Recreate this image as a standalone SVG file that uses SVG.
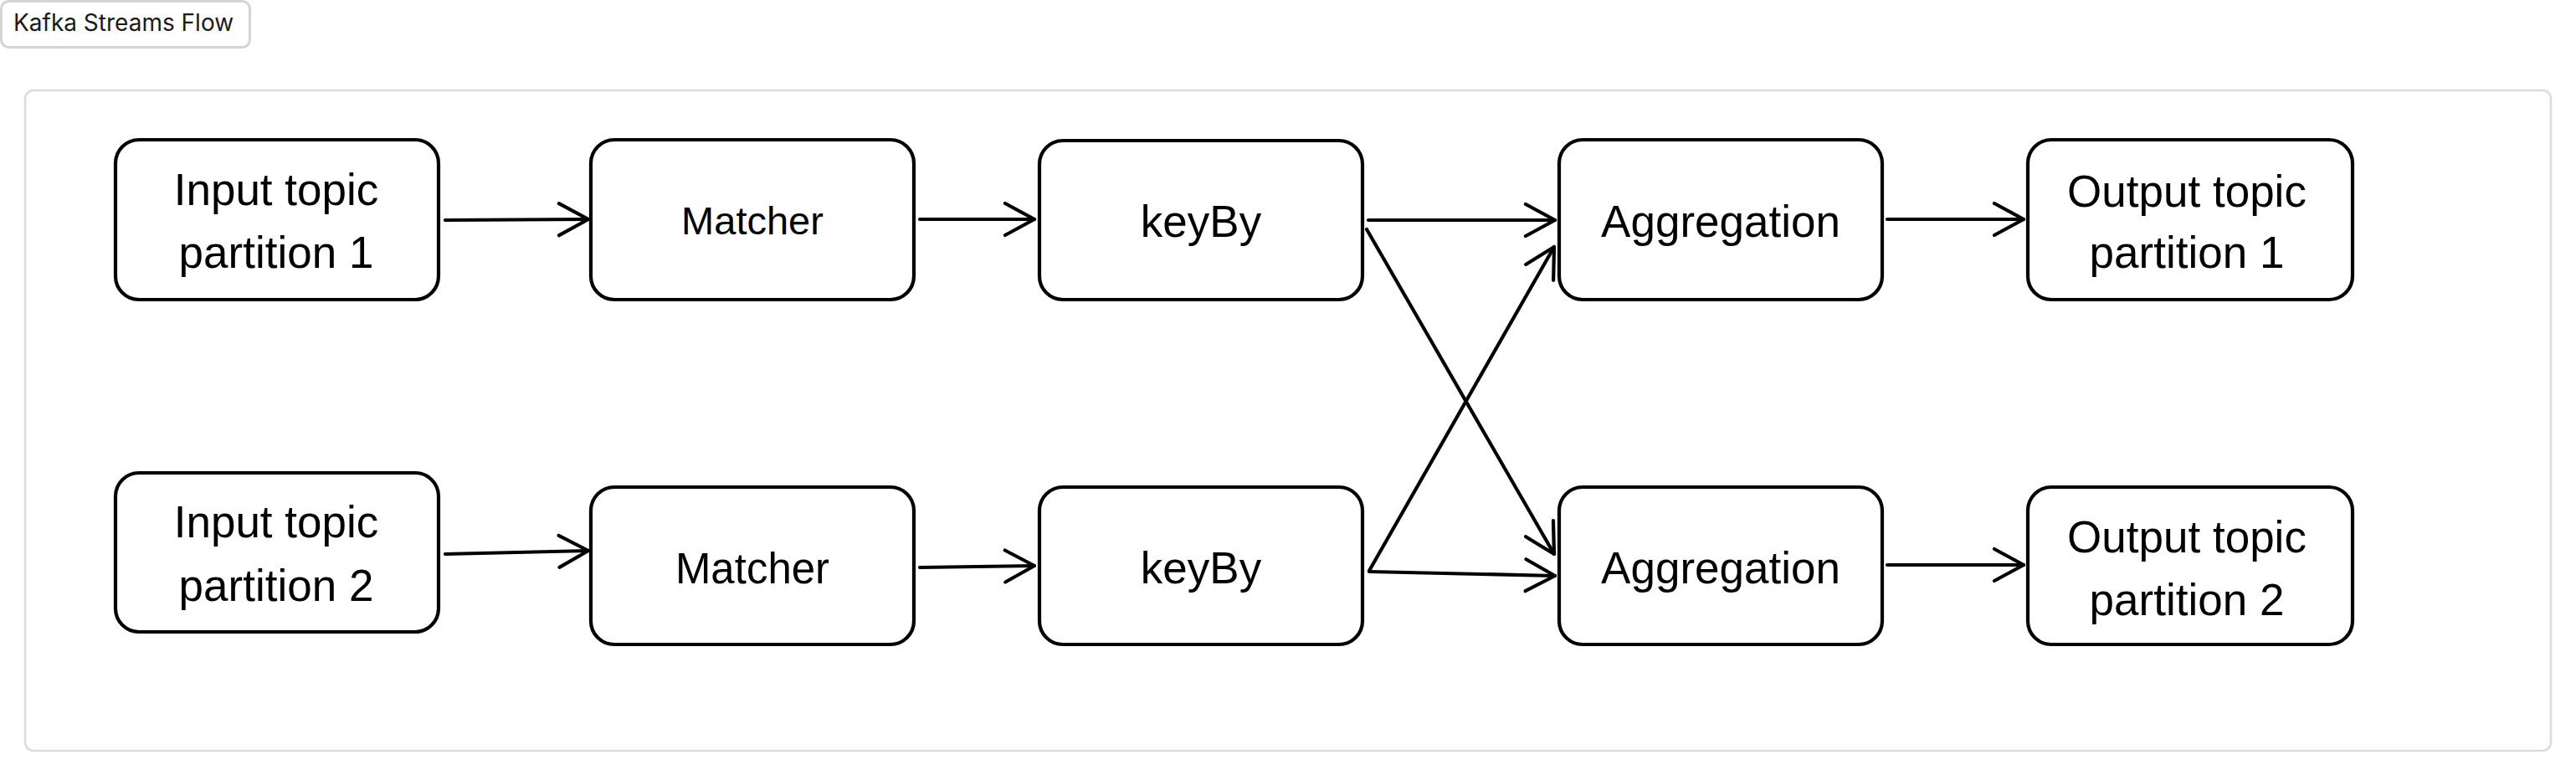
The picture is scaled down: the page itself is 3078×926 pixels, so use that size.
<svg xmlns="http://www.w3.org/2000/svg" width="3078" height="926" viewBox="0 0 3078 926">
<defs>
<style>
.node rect{fill:#ffffff;stroke:#000000;stroke-width:4.2}
.node text{font-family:"Liberation Sans",Arial,Helvetica,sans-serif;font-size:53px;fill:#000000;text-anchor:middle}
.conn{fill:none;stroke:#000000;stroke-width:4.2;stroke-linecap:round;marker-end:url(#chev)}
</style>
<marker id="chev" viewBox="-42 -24 46 48" refX="0" refY="0" markerWidth="46" markerHeight="48" markerUnits="userSpaceOnUse" orient="auto">
<path d="M-35,-19 L0,0 L-35,19" fill="none" stroke="#000000" stroke-width="4.2" stroke-linecap="round" stroke-linejoin="round"/>
</marker>
</defs>
<rect x="0" y="0" width="3078" height="926" fill="#ffffff"/>
<g id="title">
<rect x="1.5" y="1.5" width="297" height="55" rx="9" fill="#ffffff" stroke="#d4d4d4" stroke-width="3"/>
<text x="16" y="37" font-family="Inter,'Liberation Sans',sans-serif" font-size="28" fill="#1a1a1a">Kafka Streams Flow</text>
</g>
<g id="panel">
<rect x="30" y="108" width="3018" height="789" rx="10" fill="#ffffff" stroke="#dcdce0" stroke-width="2.5"/>
</g>
<g id="input1" class="node">
<rect x="138" y="167" width="386" height="191" rx="28"/>
<text x="330" y="245">Input topic</text>
<text x="330" y="320">partition 1</text>
</g>
<g id="matcher1" class="node">
<rect x="706" y="167" width="386" height="191" rx="28"/>
<text x="899" y="280" style="font-size:47px">Matcher</text>
</g>
<g id="keyby1" class="node">
<rect x="1242" y="168" width="386" height="190" rx="28"/>
<text x="1435" y="283">keyBy</text>
</g>
<g id="agg1" class="node">
<rect x="1863" y="167" width="386" height="191" rx="28"/>
<text x="2056" y="283">Aggregation</text>
</g>
<g id="output1" class="node">
<rect x="2423" y="167" width="388" height="191" rx="28"/>
<text x="2613" y="247">Output topic</text>
<text x="2613" y="320">partition 1</text>
</g>
<g id="input2" class="node">
<rect x="138" y="565" width="386" height="190" rx="28"/>
<text x="330" y="642">Input topic</text>
<text x="330" y="718">partition 2</text>
</g>
<g id="matcher2" class="node">
<rect x="706" y="582" width="386" height="188" rx="28"/>
<text x="899" y="697" style="font-size:51px">Matcher</text>
</g>
<g id="keyby2" class="node">
<rect x="1242" y="582" width="386" height="188" rx="28"/>
<text x="1435" y="697">keyBy</text>
</g>
<g id="agg2" class="node">
<rect x="1863" y="582" width="386" height="188" rx="28"/>
<text x="2056" y="697">Aggregation</text>
</g>
<g id="output2" class="node">
<rect x="2423" y="582" width="388" height="188" rx="28"/>
<text x="2613" y="660">Output topic</text>
<text x="2613" y="735">partition 2</text>
</g>
<g id="connectors">
<path class="conn" d="M532,263 L703,262"/>
<path class="conn" d="M1099,262 L1236,262"/>
<path class="conn" d="M1635,263 L1858,263"/>
<path class="conn" d="M2255,262 L2418,262"/>
<path class="conn" d="M532,662 L703,658"/>
<path class="conn" d="M1099,678 L1236,676"/>
<path class="conn" d="M1636,683 L1858,688"/>
<path class="conn" d="M2255,675 L2418,675"/>
<path class="conn" d="M1633,274 L1857,662"/>
<path class="conn" d="M1636,682 L1857,295"/>
</g>
</svg>
